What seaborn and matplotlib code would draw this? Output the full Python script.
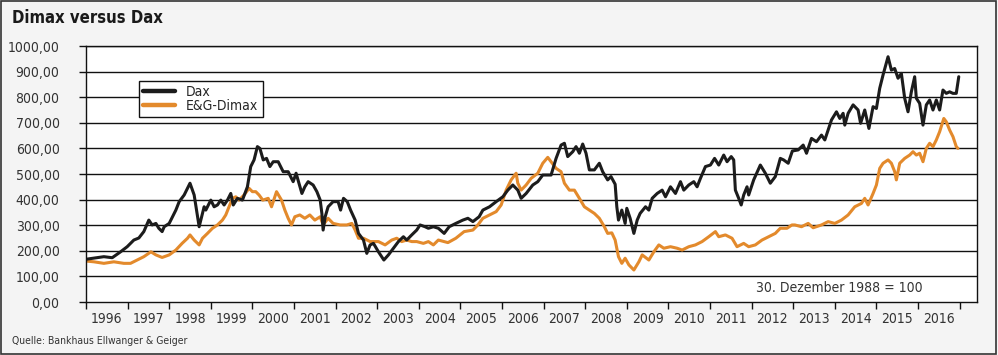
import numpy as np
import pandas as pd
import matplotlib
matplotlib.use("Agg")
import matplotlib.pyplot as plt
from matplotlib.patches import Rectangle
from matplotlib.ticker import FixedLocator, FuncFormatter
from matplotlib.lines import Line2D
from matplotlib import font_manager
import seaborn as sns

# --- data (decimal year, index value) ---
dax_t = [1996.00, 1996.43, 1996.63, 1996.83, 1996.99, 1997.15, 1997.27, 1997.39, 1997.51, 1997.59,
         1997.68, 1997.75, 1997.83, 1997.88, 1998.00, 1998.16, 1998.24, 1998.36, 1998.50, 1998.60,
         1998.72, 1998.76, 1998.84, 1998.88, 1999.00, 1999.08, 1999.16, 1999.24, 1999.32, 1999.40,
         1999.48, 1999.54, 1999.64, 1999.76, 1999.88, 1999.96, 2000.04, 2000.12, 2000.18, 2000.26,
         2000.34, 2000.42, 2000.50, 2000.62, 2000.74, 2000.86, 2000.98, 2001.05, 2001.19, 2001.26,
         2001.34, 2001.46, 2001.55, 2001.63, 2001.67, 2001.70, 2001.75, 2001.82, 2001.94, 2002.06,
         2002.12, 2002.19, 2002.28, 2002.36, 2002.47, 2002.55, 2002.67, 2002.75, 2002.83, 2002.91,
         2003.03, 2003.16, 2003.27, 2003.39, 2003.51, 2003.63, 2003.71, 2003.83, 2003.95, 2004.03,
         2004.15, 2004.23, 2004.35, 2004.47, 2004.61, 2004.73, 2004.89, 2005.06, 2005.18, 2005.30,
         2005.45, 2005.54, 2005.70, 2005.86, 2006.02, 2006.14, 2006.26, 2006.38, 2006.46, 2006.58,
         2006.74, 2006.86, 2006.98, 2007.18, 2007.30, 2007.42, 2007.50, 2007.58, 2007.70, 2007.78,
         2007.86, 2007.94, 2008.02, 2008.10, 2008.22, 2008.34, 2008.42, 2008.54, 2008.62, 2008.72,
         2008.76, 2008.80, 2008.88, 2008.96, 2009.00, 2009.08, 2009.17, 2009.25, 2009.32, 2009.45,
         2009.53, 2009.61, 2009.73, 2009.85, 2009.93, 2010.05, 2010.17, 2010.29, 2010.37, 2010.49,
         2010.61, 2010.69, 2010.77, 2010.89, 2011.01, 2011.11, 2011.21, 2011.33, 2011.41, 2011.51,
         2011.57, 2011.61, 2011.69, 2011.75, 2011.81, 2011.89, 2011.93, 2012.05, 2012.21, 2012.33,
         2012.45, 2012.57, 2012.69, 2012.77, 2012.88, 2012.98, 2013.12, 2013.24, 2013.32, 2013.44,
         2013.56, 2013.68, 2013.76, 2013.92, 2014.04, 2014.12, 2014.20, 2014.24, 2014.32, 2014.44,
         2014.56, 2014.62, 2014.72, 2014.82, 2014.92, 2015.00, 2015.08, 2015.16, 2015.28, 2015.36,
         2015.44, 2015.52, 2015.60, 2015.68, 2015.76, 2015.84, 2015.92, 2015.96, 2016.04, 2016.12,
         2016.20, 2016.28, 2016.36, 2016.44, 2016.52, 2016.60, 2016.68, 2016.76, 2016.84, 2016.92,
         2016.98]
dax_v = [167, 177, 173, 196, 216, 242, 250, 275, 320, 301,
         307, 288, 275, 294, 307, 359, 392, 418, 464, 418,
         294, 320, 372, 359, 398, 372, 379, 398, 379, 398,
         424, 379, 405, 398, 450, 529, 555, 607, 600, 555,
         561, 529, 548, 548, 509, 509, 470, 503, 424, 450,
         470, 457, 431, 398, 346, 281, 333, 372, 392, 392,
         359, 405, 392, 359, 320, 268, 242, 190, 223, 229,
         196, 164, 184, 210, 236, 255, 242, 262, 281, 301,
         294, 288, 294, 288, 268, 294, 307, 320, 327, 314,
         333, 359, 372, 392, 411, 437, 457, 437, 405, 424,
         457, 470, 496, 496, 561, 613, 620, 568, 587, 607,
         581, 617, 581, 516, 516, 542, 509, 477, 490, 460,
         372, 320, 359, 307, 366, 327, 268, 320, 346, 372,
         359, 405, 424, 437, 411, 450, 424, 470, 437, 457,
         470, 450, 483, 529, 535, 561, 535, 574, 548, 568,
         555, 437, 405, 379, 418, 450, 418, 477, 535, 503,
         464, 490, 561, 555, 542, 590, 594, 613, 581, 639,
         626, 652, 633, 711, 743, 717, 737, 691, 737, 770,
         750, 698, 750, 678, 763, 756, 835, 887, 958, 906,
         912, 874, 893, 796, 743, 821, 880, 796, 776, 691,
         770, 789, 750, 789, 750, 828, 815, 821, 815, 815,
         880]

dimax_t = [1996.00, 1996.19, 1996.43, 1996.67, 1996.91, 1997.07, 1997.23, 1997.39, 1997.56, 1997.68,
           1997.83, 1998.00, 1998.16, 1998.31, 1998.44, 1998.50, 1998.60, 1998.72, 1998.80, 1998.92,
           1999.04, 1999.16, 1999.28, 1999.36, 1999.44, 1999.52, 1999.60, 1999.68, 1999.80, 1999.92,
           2000.00, 2000.08, 2000.16, 2000.25, 2000.38, 2000.46, 2000.58, 2000.70, 2000.78, 2000.86,
           2000.94, 2001.02, 2001.14, 2001.26, 2001.38, 2001.50, 2001.63, 2001.70, 2001.82, 2001.94,
           2002.11, 2002.27, 2002.39, 2002.47, 2002.55, 2002.67, 2002.83, 2003.03, 2003.19, 2003.35,
           2003.47, 2003.59, 2003.71, 2003.83, 2003.95, 2004.11, 2004.23, 2004.35, 2004.47, 2004.70,
           2004.89, 2005.09, 2005.30, 2005.42, 2005.54, 2005.70, 2005.86, 2005.98, 2006.10, 2006.22,
           2006.34, 2006.38, 2006.46, 2006.58, 2006.70, 2006.86, 2006.98, 2007.10, 2007.18, 2007.30,
           2007.42, 2007.50, 2007.62, 2007.74, 2007.86, 2007.98, 2008.10, 2008.22, 2008.34, 2008.46,
           2008.54, 2008.64, 2008.72, 2008.80, 2008.88, 2008.96, 2009.05, 2009.17, 2009.29, 2009.37,
           2009.53, 2009.65, 2009.77, 2009.89, 2010.05, 2010.21, 2010.33, 2010.49, 2010.65, 2010.81,
           2010.97, 2011.13, 2011.21, 2011.37, 2011.53, 2011.65, 2011.81, 2011.93, 2012.09, 2012.25,
           2012.41, 2012.57, 2012.69, 2012.85, 2012.97, 2013.04, 2013.20, 2013.36, 2013.48, 2013.68,
           2013.84, 2014.00, 2014.16, 2014.32, 2014.48, 2014.64, 2014.72, 2014.80, 2014.92, 2015.00,
           2015.08, 2015.16, 2015.28, 2015.36, 2015.44, 2015.48, 2015.56, 2015.68, 2015.80, 2015.88,
           2015.96, 2016.04, 2016.12, 2016.20, 2016.28, 2016.36, 2016.44, 2016.52, 2016.62, 2016.68,
           2016.76, 2016.84, 2016.92, 2016.96]
dimax_v = [160, 157, 151, 157, 151, 151, 164, 177, 196, 184,
           174, 184, 203, 229, 249, 262, 242, 223, 249, 268,
           288, 301, 320, 340, 372, 405, 411, 398, 418, 444,
           431, 431, 418, 398, 405, 372, 431, 398, 359, 327,
           301, 333, 340, 327, 340, 320, 333, 301, 327, 307,
           301, 301, 307, 281, 249, 249, 236, 236, 223, 242,
           249, 236, 242, 236, 236, 229, 236, 223, 242, 232,
           249, 275, 281, 301, 327, 340, 353, 379, 437, 477,
           503, 464, 437, 457, 483, 503, 542, 565, 548, 522,
           509, 464, 437, 437, 405, 372, 359, 346, 327, 294,
           268, 270, 242, 177, 151, 171, 145, 125, 157, 184,
           164, 196, 223, 210, 216, 210, 203, 216, 223, 236,
           255, 275, 255, 262, 249, 216, 229, 216, 223, 242,
           255, 268, 288, 288, 301, 301, 294, 307, 290, 301,
           314, 307, 320, 340, 372, 385, 405, 379, 424, 457,
           522, 542, 555, 542, 509, 477, 542, 561, 574, 587,
           574, 581, 548, 600, 620, 607, 633, 665, 717, 704,
           672, 646, 607, 600]

series_names = ["Dax", "E&G-Dimax"]
series_colors = ["#1c1c1c", "#e38a2c"]
years = list(range(1996, 2017))
y_ticks = list(range(0, 1001, 100))

df = pd.concat([
    pd.DataFrame({"t": dax_t, "v": dax_v, "serie": series_names[0]}),
    pd.DataFrame({"t": dimax_t, "v": dimax_v, "serie": series_names[1]}),
])

sns.set_theme(style="white")

# condensed face if one is installed, otherwise plain DejaVu
installed = {f.name for f in font_manager.fontManager.ttflist}
narrow = [n for n in ["Liberation Sans Narrow", "DejaVu Sans Condensed"] if n in installed]
plt.rcParams["font.family"] = narrow + ["DejaVu Sans"]
has_cond = any(f.name == "DejaVu Sans" and f.stretch == "condensed"
               for f in font_manager.fontManager.ttflist)
if has_cond and not narrow:
    plt.rcParams["font.stretch"] = "condensed"
plt.rcParams["ytick.major.pad"] = 14

W, H = 998, 355
fig = plt.figure(figsize=(W / 100, H / 100), dpi=100, facecolor="#f4f4f4")
fig.patches.append(Rectangle((0.001, 0.002), 0.997, 0.995, transform=fig.transFigure,
                             fill=False, edgecolor="#333333", linewidth=1.2))

ax = fig.add_axes([86 / W, 53 / H, 891 / W, 256 / H])
ax.set_facecolor("white")

# Dimax first, Dax drawn on top
sns.lineplot(data=df[df.serie == series_names[1]], x="t", y="v", color=series_colors[1],
             linewidth=2.2, ax=ax, legend=False, sort=False)
sns.lineplot(data=df[df.serie == series_names[0]], x="t", y="v", color=series_colors[0],
             linewidth=2.2, ax=ax, legend=False, sort=False)

ax.set_xlim(1996.0, 1996.0 + 891 / 41.6)
ax.set_ylim(0, 1000)
ax.set_xlabel("")
ax.set_ylabel("")

for y in y_ticks[1:]:
    ax.axhline(y, color="#111111", linewidth=1.0, zorder=0.5)

for s in ax.spines.values():
    s.set_color("#111111")
    s.set_linewidth(1.0)

ax.set_yticks(y_ticks)
ax.yaxis.set_major_formatter(FuncFormatter(lambda v, p: f"{v:.2f}".replace(".", ",")))
ax.tick_params(axis="y", length=5, width=1, color="#111111", pad=14, labelsize=10,
               labelcolor="#333333", left=True)

ax.xaxis.set_major_locator(FixedLocator(years + [2017]))
ax.xaxis.set_minor_locator(FixedLocator([y + 0.5 for y in years]))
ax.xaxis.set_major_formatter(FuncFormatter(lambda v, p: ""))
ax.xaxis.set_minor_formatter(FuncFormatter(lambda v, p: f"{int(v)}"))
ax.tick_params(axis="x", which="major", length=5, width=1, color="#111111", bottom=True)
ax.tick_params(axis="x", which="minor", length=0, pad=7, labelsize=10, labelcolor="#333333")

handles = [Line2D([0], [0], color=c, linewidth=3.2) for c in series_colors]
leg = ax.legend(handles, series_names, loc="upper left", bbox_to_anchor=(0.0595, 0.865),
                frameon=True, fancybox=False, edgecolor="#111111", framealpha=1,
                fontsize=10, handlelength=2.3, handletextpad=0.8, borderpad=0.3,
                labelspacing=0.0, borderaxespad=0)
leg.get_frame().set_linewidth(1.0)

ax.text(0.939, 0.055, "30. Dezember 1988 = 100", transform=ax.transAxes, ha="right",
        va="center", fontsize=10, color="#333333")

fig.text(12 / W, 1 - 18 / H, "Dimax versus Dax", fontsize=12, fontweight="bold",
         color="#1a1a1a", va="center", ha="left")
fig.text(12 / W, 1 - 341 / H, "Quelle: Bankhaus Ellwanger & Geiger", fontsize=7.5,
         color="#333333", va="center", ha="left")

fig.savefig("out.png", dpi=100, facecolor=fig.get_facecolor())
